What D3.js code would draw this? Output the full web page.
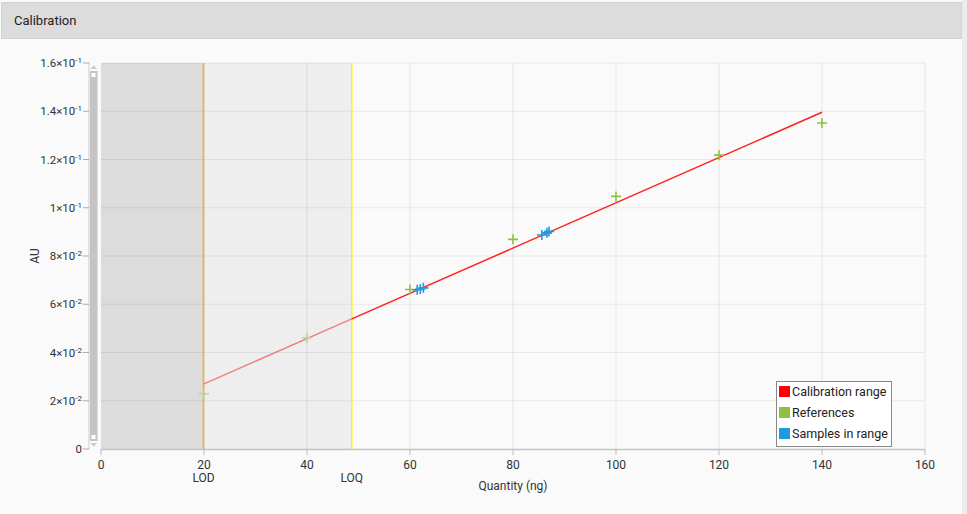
<!DOCTYPE html>
<html><head><meta charset="utf-8">
<script src="https://cdn.jsdelivr.net/npm/d3@7/dist/d3.min.js"></script>
<style>
html,body{margin:0;padding:0;background:#fafafa;font-family:Roboto,"Noto Sans",sans-serif;}
svg{display:block;}
</style></head><body>
<svg id="c" width="967" height="514"></svg>
<script>
// ---- data ----
const xTicks = [0,20,40,60,80,100,120,140,160];
const yTicks = [0,0.02,0.04,0.06,0.08,0.10,0.12,0.14,0.16];
const refX = [20,40,60,80,100,120,140];
const refY = [0.0229,0.0461,0.0661,0.0869,0.1047,0.1218,0.1351];
const sampleX = [61.4,62.0,62.6,85.6,86.6,87.0];
const sampleY = [0.0660,0.0663,0.0668,0.0887,0.0896,0.0902];
const slope = 0.000938, intercept = 0.00824;
const lod = 19.9, loq = 48.7, calMax = 140;
const legendLabels = ["Calibration range","References","Samples in range"];
const legendColors = ["#ff0000","#8dc13f","#1e9be0"];

const svg = d3.select("#c");
// page chrome
svg.append("rect").attr("x",0).attr("y",0).attr("width",967).attr("height",514).attr("fill","#fafafa");
svg.append("rect").attr("x",962).attr("y",0).attr("width",5).attr("height",514).attr("fill","#ececec");
svg.append("rect").attr("x",1.5).attr("y",2.5).attr("width",960).attr("height",36).attr("fill","#dcdcdc").attr("stroke","#d2d2d2");
svg.append("text").attr("x",14).attr("y",25).attr("font-size",13).attr("fill","#222").text("Calibration");

const x = d3.scaleLinear().domain([0,160]).range([101,925]);
const y = d3.scaleLinear().domain([0,0.16]).range([449,63]);

// background regions
svg.append("rect").attr("x",x(0)).attr("y",y(0.16)).attr("width",x(lod)-x(0)).attr("height",y(0)-y(0.16)).attr("fill","#dcdcdc");
svg.append("rect").attr("x",x(lod)).attr("y",y(0.16)).attr("width",x(loq)-x(lod)).attr("height",y(0)-y(0.16)).attr("fill","#eeeeee");

// grid
const g = svg.append("g");
g.selectAll(".gx").data(xTicks.slice(1)).join("line")
  .attr("x1",d=>x(d)).attr("x2",d=>x(d)).attr("y1",y(0.16)).attr("y2",y(0))
  .attr("stroke","rgba(0,0,0,0.07)").attr("stroke-width",1.2);
g.selectAll(".gy").data(yTicks.slice(1)).join("line")
  .attr("x1",x(0)).attr("x2",x(160)).attr("y1",d=>y(d)).attr("y2",d=>y(d))
  .attr("stroke","rgba(0,0,0,0.07)").attr("stroke-width",1.2);

// LOD / LOQ lines
svg.append("line").attr("x1",x(lod)).attr("x2",x(lod)).attr("y1",y(0.16)).attr("y2",y(0)).attr("stroke","#f5ac2a").attr("stroke-width",1.5);
svg.append("line").attr("x1",x(loq)).attr("x2",x(loq)).attr("y1",y(0.16)).attr("y2",y(0)).attr("stroke","#ffee11").attr("stroke-width",1.5);

// regression line
svg.append("line").attr("x1",x(lod)).attr("x2",x(loq))
  .attr("y1",y(intercept+slope*lod)).attr("y2",y(intercept+slope*loq))
  .attr("stroke","#f08080").attr("stroke-width",1.5);
svg.append("line").attr("x1",x(loq)).attr("x2",x(calMax))
  .attr("y1",y(intercept+slope*loq)).attr("y2",y(intercept+slope*calMax))
  .attr("stroke","#ff2020").attr("stroke-width",1.5);

function cross(sel, px, py, color){
  const s=5;
  sel.append("path").attr("d",`M${px-s},${py}H${px+s}M${px},${py-s}V${py+s}`)
    .attr("stroke",color).attr("stroke-width",1.6).attr("fill","none");
}
const pts = svg.append("g");
refX.forEach((v,i)=>cross(pts,x(v),y(refY[i]), v<loq ? "#bcd698" : "#8dc13f"));
sampleX.forEach((v,i)=>cross(pts,x(v),y(sampleY[i]),"#1e9be0"));

// x axis
const ax = svg.append("g");
ax.append("line").attr("x1",x(0)).attr("x2",x(160)).attr("y1",y(0)+0.5).attr("y2",y(0)+0.5).attr("stroke","#c4c4c4").attr("stroke-width",1.5);
ax.selectAll(".tx").data(xTicks).join("line").attr("x1",d=>x(d)).attr("x2",d=>x(d)).attr("y1",y(0)).attr("y2",y(0)+6).attr("stroke","#bbb");
ax.selectAll(".lx").data(xTicks).join("text").attr("x",d=>x(d)).attr("y",469).attr("text-anchor","middle")
  .attr("font-size",12).attr("fill","#333").text(d=>d);
svg.append("text").attr("x",x(lod)).attr("y",482).attr("text-anchor","middle").attr("font-size",12).attr("fill","#333").text("LOD");
svg.append("text").attr("x",x(loq)).attr("y",482).attr("text-anchor","middle").attr("font-size",12).attr("fill","#333").text("LOQ");
svg.append("text").attr("x",x(80)).attr("y",490).attr("text-anchor","middle").attr("font-size",12).attr("fill","#333").text("Quantity (ng)");

// y axis
const ay = svg.append("g");
ay.append("line").attr("x1",89).attr("x2",89).attr("y1",y(0.16)-1).attr("y2",y(0)).attr("stroke","#ccc");
ay.selectAll(".ty").data(yTicks).join("line").attr("x1",83).attr("x2",89).attr("y1",d=>y(d)).attr("y2",d=>y(d)).attr("stroke","#aaa");
const yl = ay.selectAll(".ly").data(yTicks).join("text").attr("x",82).attr("y",d=>y(d)+4)
  .attr("text-anchor","end").attr("font-size",11.5).attr("fill","#333");
yl.each(function(d){
  const t=d3.select(this);
  if(d===0){t.text("0");return;}
  const e=Math.floor(Math.log10(d)+1e-9);
  const m=+(d/Math.pow(10,e)).toFixed(2);
  t.append("tspan").text(m+"×10");
  t.append("tspan").attr("dy",-4).attr("font-size",8).text(String(e));
});
svg.append("text").attr("transform","translate(39,256) rotate(-90)").attr("text-anchor","middle")
  .attr("font-size",12).attr("fill","#333").text("AU");

// scrollbar
const sb = svg.append("g");
sb.append("rect").attr("x",90).attr("y",71).attr("width",7.5).attr("height",370).attr("fill","#c4c4c4");
sb.append("rect").attr("x",91.5).attr("y",73).attr("width",4).attr("height",4).attr("fill","#fff");
sb.append("rect").attr("x",91.5).attr("y",435).attr("width",4).attr("height",4).attr("fill","#fff");
sb.append("path").attr("d","M90.5,69L93.7,65L97,69Z").attr("fill","#ccc");
sb.append("path").attr("d","M90.5,443L93.7,447L97,443Z").attr("fill","#ccc");

// legend
const lg = svg.append("g");
lg.append("rect").attr("x",776.5).attr("y",381.5).attr("width",115).attr("height",65).attr("fill","#fff").attr("stroke","#888");
legendLabels.forEach((l,i)=>{
  lg.append("rect").attr("x",779).attr("y",386+i*21).attr("width",11).attr("height",11).attr("fill",legendColors[i]);
  lg.append("text").attr("x",792).attr("y",396+i*21).attr("font-size",12.5).attr("fill","#222").text(l);
});
</script></body></html>
